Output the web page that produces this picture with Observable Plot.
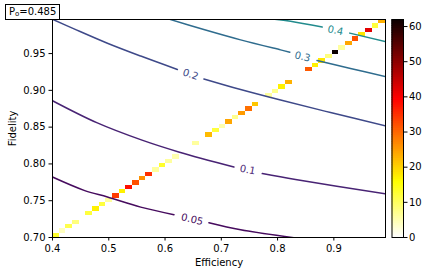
<!DOCTYPE html>
<html><head><meta charset="utf-8">
<script src="https://cdn.jsdelivr.net/npm/d3@7"></script>
<script src="https://cdn.jsdelivr.net/npm/@observablehq/plot@0.6"></script>
<style>
body{margin:0;background:#fff;}
#wrap{position:relative;width:429px;height:275px;font-family:"DejaVu Sans",sans-serif;overflow:hidden;}
#main{position:absolute;left:0;top:0;}
#cbar{position:absolute;left:385px;top:0;}
#title{position:absolute;left:5px;top:4px;height:14px;line-height:14px;padding:0 3px;border:1px solid #000;background:#fff;font-size:10px;color:#000;white-space:nowrap;}
#title sub{font-size:7px;vertical-align:-1px;line-height:0;}
</style></head>
<body>
<div id="wrap"><div id="main"></div><div id="cbar"></div><div id="title">P<sub>o</sub>=0.485</div></div>
<script>
// ---- histogram grid (50 x 50 bins) ----
const effRange = [0.4, 0.9918];
const fidRange = [0.7, 0.9963];
const nBins = 50;
// occupied bins (efficiency bin, fidelity bin) and counts
const effBin = [0,1,2,3,5,6,7,8,9,10,11,12,13,14,15,16,17,18,21,23,24,25,26,27,28,29,30,32,33,34,35,38,39,40,41,42,43,44,45,46,47,48,49];
const fidBin = [0,1,2,3,5,6,7,8,9,10,11,12,13,14,15,16,17,18,21,23,24,25,26,27,28,29,30,32,33,34,35,38,39,40,41,42,43,44,45,46,47,48,49];
const counts = [13,4,11,8,12,17,12,6,34,17,38,32,26,35,6,13,6,5,6,22,12,5,24,7,25,29,21,6,7,17,23,31,17,18,8,62,6,24,32,18,42,12,23];
const countMax = 62;

// ---- ticks ----
const xTicks = [0.4,0.5,0.6,0.7,0.8,0.9];
const yTicks = [0.70,0.75,0.80,0.85,0.90,0.95];
const cbarTicks = [0,10,20,30,40,50,60];

// ---- contour lines (efficiency, fidelity), split where the label sits ----
const levels = [0.05, 0.1, 0.2, 0.3, 0.4];
const c005 = [
  [[0.4,0.7822],[0.4561,0.7641],[0.4976,0.7550],[0.5568,0.7413],[0.6159,0.7310]],
  [[0.6780,0.7200],[0.7343,0.7105],[0.8289,0.6998]]
];
const c010 = [
  [[0.4,0.8859],[0.4786,0.8561],[0.5591,0.8323],[0.6242,0.8163],[0.7224,0.7959]],
  [[0.7728,0.7869],[0.8319,0.7787],[0.9917,0.7593]]
];
const c020 = [
  [[0.4,0.9966],[0.4383,0.9836],[0.4976,0.9641],[0.5568,0.9466],[0.6219,0.9284]],
  [[0.6691,0.9155],[0.7343,0.9011],[0.8053,0.8868],[0.8941,0.8698],[0.9917,0.8518]]
];
const c030 = [
  [[0.6040,0.9975],[0.6704,0.9823],[0.7343,0.9686],[0.8053,0.9550],[0.8218,0.9519]],
  [[0.8701,0.9407],[0.9296,0.9298],[0.9917,0.9186]]
];
const c040 = [
  [[0.7950,0.9968],[0.8231,0.9939],[0.8793,0.9860]],
  [[0.9283,0.9778],[0.9917,0.9663]]
];
const contourSets = [c005, c010, c020, c030, c040];
// label positions and rotation (deg)
const labelEff = [0.6482, 0.7467, 0.6455, 0.8444, 0.9029];
const labelFid = [0.7245, 0.7920, 0.9216, 0.9455, 0.9813];
const labelRot = [13, 11, 19, 14, 12];
const labelText = ["0.05", "0.1", "0.2", "0.3", "0.4"];

// ---- derived ----
const dx = (effRange[1]-effRange[0])/nBins;
const dy = (fidRange[1]-fidRange[0])/nBins;
const cells = counts.map((c,k)=>({
  x1: effRange[0]+effBin[k]*dx, x2: effRange[0]+(effBin[k]+1)*dx,
  y1: fidRange[0]+fidBin[k]*dy, y2: fidRange[0]+(fidBin[k]+1)*dy, count: c
}));
const levelColor = l => d3.interpolateViridis(0.03 + (l-0.05)/0.78);
const colorScale = {type:"linear", domain:[0, countMax*(1-0.746032), countMax*(1-0.365079), countMax],
  range:["#ffffff","#ffff00","#ff0000","#0b0000"], interpolate:"rgb"};

const contourMarks = [];
contourSets.forEach((segs,li)=>{
  segs.forEach(seg=>{
    contourMarks.push(Plot.line(seg, {x:d=>d[0], y:d=>d[1], stroke: levelColor(levels[li]), strokeWidth:1.5, curve:"catmull-rom", clip:true}));
  });
});
const labels = levels.map((l,i)=>({x:labelEff[i], y:labelFid[i], r:labelRot[i], t:labelText[i], c:levelColor(l)}));
labels.forEach(d=>{
  contourMarks.push(Plot.text([d], {x:"x", y:"y", text:"t", rotate:d.r, fill:d.c, fontSize:10}));
});

const main = Plot.plot({
  width: 429, height: 275,
  marginLeft: 52, marginRight: 44, marginTop: 19, marginBottom: 38,
  style: {fontFamily:"DejaVu Sans", fontSize:"10px", color:"#000", background:"transparent"},
  x: {domain: effRange},
  y: {domain: fidRange},
  color: colorScale,
  marks: [
    Plot.rect(cells, {x1:"x1", x2:"x2", y1:"y1", y2:"y2", fill:"count", shapeRendering:"crispEdges"}),
    ...contourMarks,
    Plot.frame({stroke:"#000", strokeWidth:1}),
    Plot.axisX({ticks:xTicks, tickFormat:d3.format(".1f"), tickSize:3.5, tickPadding:3.5, label:"Efficiency", labelAnchor:"center", labelArrow:"none", labelOffset:28}),
    Plot.axisY({ticks:yTicks, tickFormat:d3.format(".2f"), tickSize:3.5, tickPadding:3.5, label:"Fidelity", labelAnchor:"center", labelArrow:"none", labelOffset:44})
  ]
});
document.getElementById("main").appendChild(main);

const step = 0.5;
const cb = Plot.plot({
  width: 44, height: 275,
  marginLeft: 6.5, marginRight: 26, marginTop: 19, marginBottom: 38,
  style: {fontFamily:"DejaVu Sans", fontSize:"10px", color:"#000", background:"transparent"},
  x: {domain:[0,1], axis:null},
  y: {domain:[0,countMax], axis:null},
  color: colorScale,
  marks: [
    Plot.rect(d3.range(0, countMax, step), {x1:()=>0, x2:()=>1, y1:d=>d, y2:d=>Math.min(countMax, d+step*1.6), fill:d=>d+step/2}),
    Plot.frame({stroke:"#000", strokeWidth:1}),
    Plot.axisY({anchor:"right", ticks:cbarTicks, tickFormat:d3.format("d"), tickSize:3.5, tickPadding:2, label:null})
  ]
});
document.getElementById("cbar").appendChild(cb);
</script>
</body></html>
